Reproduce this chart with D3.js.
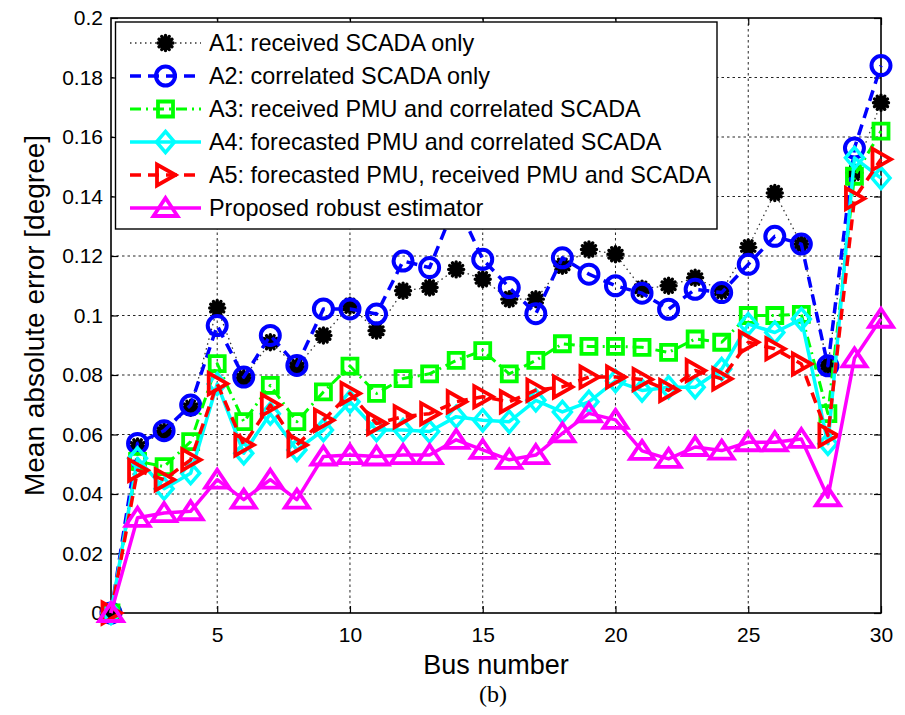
<!DOCTYPE html>
<html>
<head>
<meta charset="utf-8">
<script src="https://cdn.jsdelivr.net/npm/d3@7"></script>
<style>
  html, body { margin: 0; padding: 0; background: #fff; }
  svg { display: block; }
  text { font-family: "Liberation Sans", Arial, Helvetica, sans-serif; fill: #000; }
</style>
</head>
<body>
<svg id="chart" width="905" height="715"></svg>
<script>
// Bus indices 1..30
const buses = d3.range(1, 31);

// Mean absolute error per bus [degree]
const a1 = [0, 0.056, 0.061, 0.069, 0.1025, 0.079, 0.091, 0.0827, 0.0933, 0.1033,
            0.0949, 0.1083, 0.1094, 0.1155, 0.1122, 0.1055, 0.1055, 0.1167, 0.1222, 0.1206,
            0.109, 0.110, 0.1127, 0.1083, 0.1229, 0.1412, 0.124, 0.0831, 0.148, 0.1715];
const a2 = [0, 0.057, 0.0613, 0.0699, 0.0966, 0.0793, 0.0933, 0.0832, 0.1022, 0.1022,
            0.1005, 0.1183, 0.1161, 0.138, 0.1189, 0.1094, 0.1006, 0.1194, 0.1139, 0.110,
            0.1075, 0.1021, 0.1088, 0.1077, 0.1172, 0.1266, 0.124, 0.0831, 0.1563, 0.184];
const a3 = [0, 0.051, 0.0492, 0.0576, 0.0838, 0.0643, 0.0765, 0.0643, 0.0743, 0.083,
            0.0738, 0.0788, 0.0804, 0.0849, 0.0882, 0.0804, 0.0849, 0.0905, 0.0896, 0.0896,
            0.0893, 0.0876, 0.0921, 0.091, 0.100, 0.100, 0.1004, 0.067, 0.1468, 0.162];
const a4 = [0, 0.052, 0.0418, 0.047, 0.077, 0.0537, 0.067, 0.0548, 0.0615, 0.071,
            0.0615, 0.0615, 0.061, 0.066, 0.0648, 0.0643, 0.0715, 0.0676, 0.071, 0.078,
            0.0748, 0.0759, 0.0759, 0.082, 0.0971, 0.0943, 0.0988, 0.0569, 0.153, 0.1462];
const a5 = [0, 0.048, 0.0448, 0.0515, 0.0771, 0.0565, 0.0699, 0.0565, 0.0648, 0.0738,
            0.0637, 0.066, 0.067, 0.071, 0.0727, 0.071, 0.0749, 0.076, 0.0793, 0.0793,
            0.0785, 0.0748, 0.0815, 0.0787, 0.091, 0.0888, 0.0837, 0.0597, 0.1393, 0.1525];
const proposed = [0, 0.032, 0.0336, 0.0342, 0.0448, 0.0381, 0.0448, 0.0381, 0.0526, 0.0531,
            0.0526, 0.0531, 0.0531, 0.0582, 0.0548, 0.0515, 0.0531, 0.0604, 0.0671, 0.0649,
            0.0545, 0.0518, 0.0558, 0.0546, 0.0574, 0.0574, 0.0585, 0.0389, 0.0856, 0.0989];

const seriesNames = [
  "A1: received SCADA only",
  "A2: correlated SCADA only",
  "A3: received PMU and correlated SCADA",
  "A4: forecasted PMU and correlated SCADA",
  "A5: forecasted PMU, received PMU and SCADA",
  "Proposed robust estimator"
];

const xTicks = [5, 10, 15, 20, 25, 30];
const xTickLabels = ["5", "10", "15", "20", "25", "30"];
const yTicks = [0, 0.02, 0.04, 0.06, 0.08, 0.1, 0.12, 0.14, 0.16, 0.18, 0.2];
const yTickLabels = ["0", "0.02", "0.04", "0.06", "0.08", "0.1", "0.12", "0.14", "0.16", "0.18", "0.2"];

const xTitle = "Bus number";
const yTitle = "Mean absolute error [degree]";
const caption = "(b)";

// ---- layout ----
const svg = d3.select("#chart");
const plot = { left: 111, right: 881, top: 18, bottom: 613 };
const x = d3.scaleLinear().domain([1, 30]).range([plot.left, plot.right]);
const y = d3.scaleLinear().domain([0, 0.2]).range([plot.bottom, plot.top]);

svg.append("rect").attr("width", 905).attr("height", 715).attr("fill", "#fff");

// grid
const grid = svg.append("g").attr("stroke", "#000").attr("stroke-width", 1)
  .attr("stroke-dasharray", "2.5,3").attr("opacity", 0.85);
grid.selectAll("line.v").data(xTicks.filter(t => t < 30)).join("line")
  .attr("x1", d => x(d)).attr("x2", d => x(d))
  .attr("y1", plot.top).attr("y2", plot.bottom);
grid.selectAll("line.h").data(yTicks.filter(t => t > 0 && t < 0.2)).join("line")
  .attr("x1", plot.left).attr("x2", plot.right)
  .attr("y1", d => y(d)).attr("y2", d => y(d));

// axes with inward ticks
const fontTick = 21;
const gx = svg.append("g").attr("transform", `translate(0,${plot.bottom})`)
  .call(d3.axisBottom(x).tickValues(xTicks).tickSize(-7).tickPadding(14)
    .tickFormat((d, i) => xTickLabels[i]));
const gy = svg.append("g").attr("transform", `translate(${plot.left},0)`)
  .call(d3.axisLeft(y).tickValues(yTicks).tickSize(-7).tickPadding(8)
    .tickFormat((d, i) => yTickLabels[i]));
const gxt = svg.append("g").attr("transform", `translate(0,${plot.top})`)
  .call(d3.axisTop(x).tickValues(xTicks).tickSize(-7).tickFormat(""));
const gyr = svg.append("g").attr("transform", `translate(${plot.right},0)`)
  .call(d3.axisRight(y).tickValues(yTicks).tickSize(-7).tickFormat(""));
[gx, gy, gxt, gyr].forEach(g => {
  g.select(".domain").remove();
  g.selectAll(".tick line").attr("stroke", "#000").attr("stroke-width", 1.2);
  g.selectAll(".tick text").attr("font-size", fontTick)
    .attr("font-family", "'Liberation Sans', Arial, sans-serif").attr("fill", "#000");
});

// frame
svg.append("rect")
  .attr("x", plot.left).attr("y", plot.top)
  .attr("width", plot.right - plot.left).attr("height", plot.bottom - plot.top)
  .attr("fill", "none").attr("stroke", "#000").attr("stroke-width", 1.6);

// titles
svg.append("text").attr("x", 496).attr("y", 674).attr("text-anchor", "middle")
  .attr("font-size", 27).text(xTitle);
svg.append("text")
  .attr("transform", `translate(44,${(plot.top + plot.bottom) / 2}) rotate(-90)`)
  .attr("text-anchor", "middle").attr("font-size", 28).text(yTitle);
svg.append("text").attr("x", 493).attr("y", 702).attr("text-anchor", "middle")
  .style("font-family", "'Liberation Serif', 'Times New Roman', serif")
  .attr("font-size", 24).text(caption);

// ---- marker shapes ----
const markerPaths = {
  star: () => {
    const r = 7.5, p = [];
    for (let k = 0; k < 12; k++) {
      const a = k * Math.PI / 6;
      p.push(`M0,0L${(r * Math.cos(a)).toFixed(2)},${(r * Math.sin(a)).toFixed(2)}`);
    }
    return p.join("");
  },
  circle: () => "M9.5,0A9.5,9.5 0 1,1 -9.5,0A9.5,9.5 0 1,1 9.5,0Z",
  square: () => "M-7.5,-7.5H7.5V7.5H-7.5Z",
  diamond: () => "M0,-10.5L9,0L0,10.5L-9,0Z",
  right: () => "M10,0L-8.5,-10.5L-8.5,10.5Z",
  up: () => "M0,-10L12,8L-12,8Z"
};

const series = [
  { name: seriesNames[0], values: a1, color: "#000000", width: 1.3, dash: "1.5,3.5", marker: "star", mWidth: 3.4, lineColor: "#333" },
  { name: seriesNames[1], values: a2, color: "#0000ff", width: 3.5, dash: "11,7", marker: "circle", mWidth: 4 },
  { name: seriesNames[2], values: a3, color: "#00ff00", width: 3, dash: "11,5,2,5", marker: "square", mWidth: 3.8 },
  { name: seriesNames[3], values: a4, color: "#00ffff", width: 3.5, dash: null, marker: "diamond", mWidth: 3.5 },
  { name: seriesNames[4], values: a5, color: "#ff0000", width: 3.5, dash: "11,7", marker: "right", mWidth: 3.8 },
  { name: seriesNames[5], values: proposed, color: "#ff00ff", width: 3.5, dash: null, marker: "up", mWidth: 3.8 }
];

const line = d3.line().x((d, i) => x(buses[i])).y(d => y(d));
const plotG = svg.append("g");

series.forEach(s => {
  const g = plotG.append("g");
  g.append("path").datum(s.values)
    .attr("d", line).attr("fill", "none")
    .attr("stroke", s.lineColor || s.color).attr("stroke-width", s.width)
    .attr("stroke-dasharray", s.dash).attr("stroke-linejoin", "round");
  g.selectAll("path.m").data(s.values).join("path").attr("class", "m")
    .attr("transform", (d, i) => `translate(${x(buses[i])},${y(d)})`)
    .attr("d", markerPaths[s.marker]())
    .attr("fill", "none").attr("stroke", s.color).attr("stroke-width", s.mWidth)
    .attr("stroke-linecap", s.marker === "star" ? "round" : "butt");
});

// ---- legend ----
const leg = svg.append("g");
leg.append("rect").attr("x", 115.5).attr("y", 22).attr("width", 601.5).attr("height", 207)
  .attr("fill", "#fff").attr("stroke", "#000").attr("stroke-width", 1.4);
const rowY = d3.scalePoint().domain(d3.range(series.length)).range([43, 208]);
series.forEach((s, i) => {
  const cy = rowY(i);
  leg.append("line").attr("x1", 130).attr("x2", 201).attr("y1", cy).attr("y2", cy)
    .attr("stroke", s.lineColor || s.color).attr("stroke-width", s.width)
    .attr("stroke-dasharray", s.dash);
  leg.append("path").attr("transform", `translate(165.5,${cy})`)
    .attr("d", markerPaths[s.marker]())
    .attr("fill", "none").attr("stroke", s.color).attr("stroke-width", s.mWidth)
    .attr("stroke-linecap", s.marker === "star" ? "round" : "butt");
  leg.append("text").attr("x", 209).attr("y", cy + 8).attr("font-size", 23.4).text(s.name);
});
</script>
</body>
</html>
